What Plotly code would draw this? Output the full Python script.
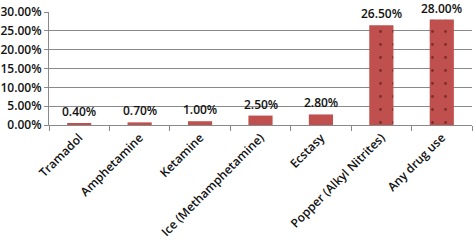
import plotly.graph_objects as go

categories = ["Tramadol", "Amphetamine", "Ketamine", "Ice (Methamphetamine)",
              "Ecstasy", "Popper (Alkyl Nitrites)", "Any drug use"]
values = [0.004, 0.007, 0.010, 0.025, 0.028, 0.265, 0.280]
labels = ["0.40%", "0.70%", "1.00%", "2.50%", "2.80%", "26.50%", "28.00%"]
patterns = ["", "", "", "", "", ".", "."]

fig = go.Figure()
fig.add_trace(go.Bar(
    x=categories, y=values,
    marker=dict(color="#C0504D", line=dict(width=0),
                pattern=dict(shape=patterns, fgcolor="#3a0a0a", size=13, solidity=0.04)),
    width=0.4,
))
for c, v, t in zip(categories, values, labels):
    fig.add_annotation(x=c, y=v, text=t, showarrow=False, yanchor="bottom", yshift=1,
                       font=dict(size=12, color="#111", family="Open Sans, sans-serif",
                                 weight=600))

fig.update_layout(
    width=473, height=241, margin=dict(l=49, r=1, t=12, b=116),
    plot_bgcolor="white", paper_bgcolor="white",
    font=dict(family="Open Sans, sans-serif", size=11, color="#111"),
    showlegend=False, bargap=0.6,
)
fig.update_xaxes(tickangle=-45, showline=True, linecolor="#898989", linewidth=1,
                 ticks="outside", tickson="boundaries", ticklen=5, tickcolor="#898989",
                 tickfont=dict(size=12, weight=600), automargin=False)
fig.update_yaxes(range=[0, 0.30], dtick=0.05, tickformat=".2%", showgrid=True,
                 gridcolor="#898989", gridwidth=1, showline=True, linecolor="#898989",
                 ticks="outside", ticklen=4, tickcolor="#898989", zeroline=False,
                 tickfont=dict(size=12, weight=600), automargin=False)

fig.write_html("out.html", config={"displayModeBar": False},
               post_script="document.body.style.margin='0';")
